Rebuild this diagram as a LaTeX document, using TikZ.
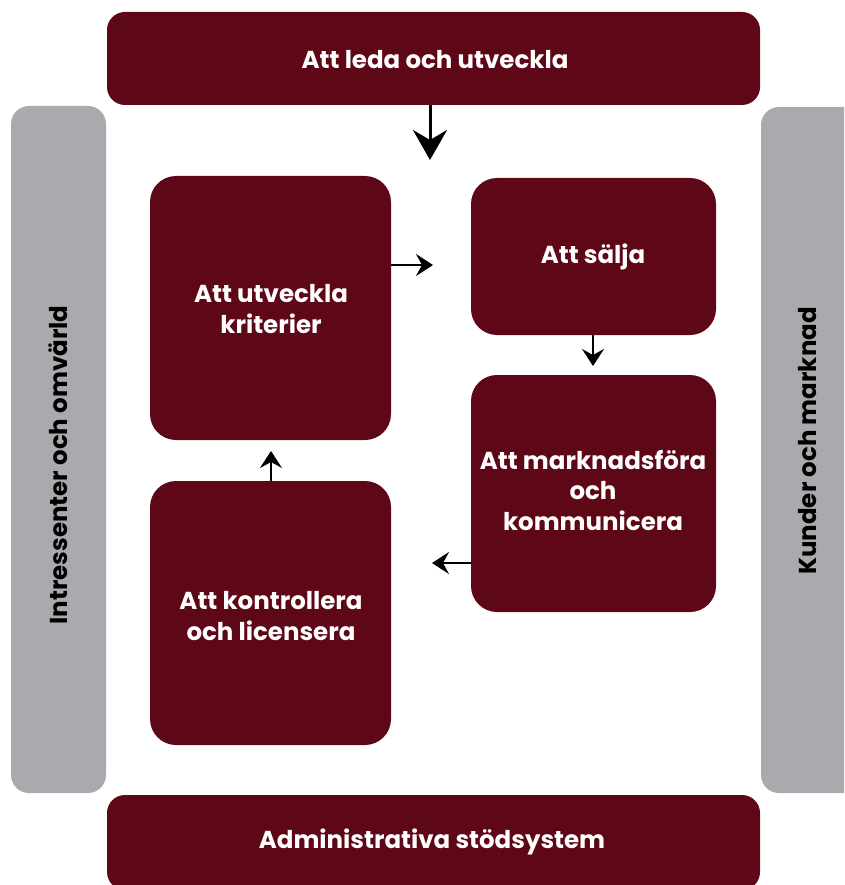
\documentclass[tikz,border=0pt]{standalone}
\usepackage{fontspec}
\setmainfont{Poppins}
\usetikzlibrary{arrows.meta}
\definecolor{maroon}{HTML}{5E0717}
\definecolor{greybar}{HTML}{A9AAAD}
\tikzset{
  x=1pt,y=-1pt,
  bar/.style={fill=maroon,draw=none,rounded corners=18pt},
  side/.style={fill=greybar,draw=none,rounded corners=18pt},
  box/.style={fill=maroon,draw=none,rounded corners=26pt},
  lbl/.style={text=white,font=\fontsize{24.5}{30.5}\selectfont\bfseries,align=center},
  slbl/.style={text=black,font=\fontsize{24.5}{30}\selectfont\bfseries,rotate=90},
  link/.style={line width=1.8pt,-{Stealth[length=17pt,width=22pt,inset=6pt]}},
  biglink/.style={line width=3pt,-{Stealth[length=30pt,width=34pt,inset=10pt]}}
}
\begin{document}
\begin{tikzpicture}
\useasboundingbox (0,0) rectangle (844,885);
\begin{scope}
\clip (0,0) rectangle (844,885);
\fill[bar] (107,12) rectangle (760,105);
\fill[bar] (107,795) rectangle (760,890);
\fill[side] (11,106) rectangle (106,793);
\fill[side] (761,107) rectangle (870,793);
\end{scope}
\node[lbl] (top) at (435,60) {Att leda och utveckla};
\node[lbl] (bot) at (432,842) {Administrativa stödsystem};
\node[slbl] (left) at (58,465) {Intressenter och omvärld};
\node[slbl] (right) at (808,441) {Kunder och marknad};
\path[box] (150,176) rectangle (391,440);
\path[box] (471,178) rectangle (716,335);
\path[box] (471,375) rectangle (716,612);
\path[box] (150,481) rectangle (391,745);
\node[lbl] (krit) at (271,309) {Att utveckla\\kriterier};
\node[lbl] (salj) at (593,257) {Att sälja};
\node[lbl] (mark) at (593,490) {Att marknadsföra\\och\\kommunicera};
\node[lbl] (kontr) at (271,616) {Att kontrollera\\och licensera};
\coordinate (a1s) at (430,105); \coordinate (a1e) at (430,160);
\coordinate (a2s) at (391,265); \coordinate (a2e) at (433,265);
\coordinate (a3s) at (593,335); \coordinate (a3e) at (593,366);
\coordinate (a4s) at (471,563); \coordinate (a4e) at (432,563);
\coordinate (a5s) at (271,481); \coordinate (a5e) at (271,451);
\draw[biglink] (a1s) -- (a1e);
\draw[link] (a2s) -- (a2e);
\draw[link] (a3s) -- (a3e);
\draw[link] (a4s) -- (a4e);
\draw[link] (a5s) -- (a5e);
\end{tikzpicture}
\end{document}
